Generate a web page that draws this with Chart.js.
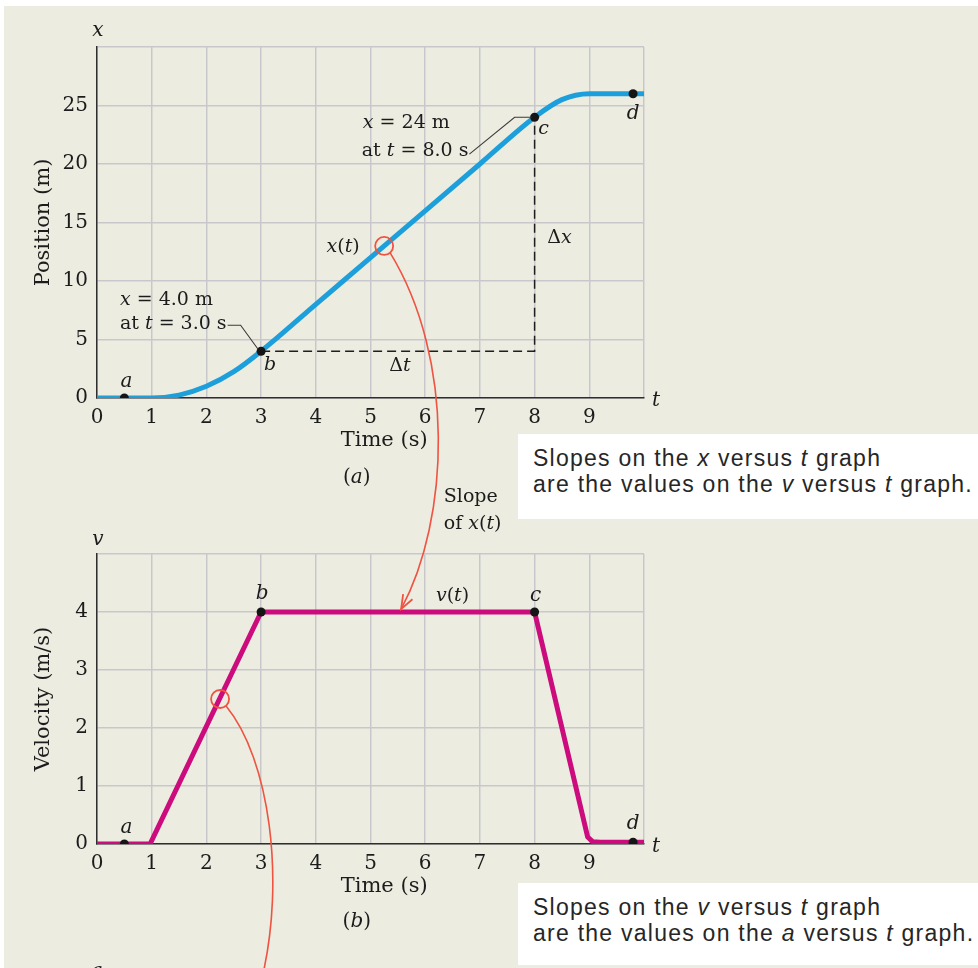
<!DOCTYPE html>
<html>
<head>
<meta charset="utf-8">
<script src="https://cdn.jsdelivr.net/npm/chart.js@4.4.1/dist/chart.umd.min.js"></script>
<style>
  html, body { margin: 0; padding: 0; background: #ffffff; }
  #page { position: relative; width: 978px; height: 968px; overflow: hidden; background: #ffffff; }
  #bg { position: absolute; left: 4px; top: 6px; right: 0; bottom: 0; background: #ecece1; }
  canvas { position: absolute; left: 0; top: 0; }
  .note {
    position: absolute; background: #ffffff; box-sizing: border-box;
    padding: 11px 0 0 15px;
    font-family: "Liberation Sans", Arial, sans-serif; font-size: 23px; line-height: 26px;
    letter-spacing: 1.25px; color: #262626; white-space: nowrap;
  }
  .note i { font-style: italic; }
</style>
</head>
<body>
<div id="page">
  <div id="bg"></div>
  <canvas id="posChart" width="978" height="968"></canvas>
  <canvas id="velChart" width="978" height="968"></canvas>
  <div class="note" style="left:518px;top:434px;width:460px;height:85px;">Slopes on the <i>x</i> versus <i>t</i> graph<br>are the values on the <i>v</i> versus <i>t</i> graph.</div>
  <div class="note" style="left:518px;top:883px;width:460px;height:82px;">Slopes on the <i>v</i> versus <i>t</i> graph<br>are the values on the <i>a</i> versus <i>t</i> graph.</div>
</div>
<script>
// Tick labels
const timeTicks = [0, 1, 2, 3, 4, 5, 6, 7, 8, 9];
const positionTicks = [0, 5, 10, 15, 20, 25];
const velocityTicks = [0, 1, 2, 3, 4];

// Position x(t) in metres
const posTime  = [0, 0.5, 1.0, 1.5, 2.0, 2.5, 3.0, 4.0, 5.0, 6.0, 7.0, 8.0, 8.5, 9.0, 9.8, 10.0];
const posValue = [0, 0, 0, 0.25, 1.0, 2.25, 4.0, 8, 12, 16, 20, 24, 25.5, 26, 26, 26];

// Velocity v(t) in m/s
const velTime  = [0, 0.5, 0.97, 3.0, 8.0, 8.97, 9.06, 9.2, 9.8, 10.0];
const velValue = [0, 0, 0, 4, 4, 0.12, 0.04, 0.03, 0.03, 0.03];

// Labelled instants a, b, c, d
const markNames = ['a', 'b', 'c', 'd'];
const markTime  = [0.5, 3.0, 8.0, 9.8];
const markPos   = [0, 4, 24, 26];
const markVel   = [0, 4, 4, 0.03];

const SERIF = '"DejaVu Serif", "Liberation Serif", serif';
const INK = '#1c1c1c';
const GRID = '#c7c7cc';
const AXIS = '#2e2e2e';
const BLUE = '#1d9fdb';
const MAGENTA = '#cc0b7d';
const RED = '#ef5341';

function pts(xs, ys) { return xs.map((x, i) => ({ x: x, y: ys[i] })); }

// Draw a line of text made of upright / italic runs
function runs(ctx, parts, x, y, align, size) {
  const fonts = parts.map(p => (p[1] ? 'italic ' : '') + size + 'px ' + SERIF);
  const widths = parts.map((p, i) => { ctx.font = fonts[i]; return ctx.measureText(p[0]).width; });
  const total = widths.reduce((a, b) => a + b, 0);
  let cx = align === 'center' ? x - total / 2 : (align === 'right' ? x - total : x);
  ctx.save();
  ctx.fillStyle = INK; ctx.textAlign = 'left'; ctx.textBaseline = 'middle';
  parts.forEach((p, i) => { ctx.font = fonts[i]; ctx.fillText(p[0], cx, y); cx += widths[i]; });
  ctx.restore();
  return cx;
}

function P(chart, t, v) { return [chart.scales.x.getPixelForValue(t), chart.scales.y.getPixelForValue(v)]; }

function polyline(ctx, list, color, width, dash) {
  ctx.save();
  ctx.strokeStyle = color; ctx.lineWidth = width; ctx.setLineDash(dash || []);
  ctx.beginPath();
  list.forEach((p, i) => i ? ctx.lineTo(p[0], p[1]) : ctx.moveTo(p[0], p[1]));
  ctx.stroke();
  ctx.restore();
}

function ring(ctx, c, r) {
  ctx.save();
  ctx.strokeStyle = RED; ctx.lineWidth = 1.8;
  ctx.beginPath(); ctx.arc(c[0], c[1], r, 0, Math.PI * 2); ctx.stroke();
  ctx.restore();
}

function curve(ctx, s, c1, c2, e, arrow) {
  ctx.save();
  ctx.strokeStyle = RED; ctx.lineWidth = 1.6;
  ctx.beginPath(); ctx.moveTo(s[0], s[1]);
  ctx.bezierCurveTo(c1[0], c1[1], c2[0], c2[1], e[0], e[1]);
  ctx.stroke();
  if (arrow) {
    const dx = e[0] - c2[0], dy = e[1] - c2[1], L = Math.hypot(dx, dy);
    const ux = dx / L, uy = dy / L, len = 15, ang = 0.36;
    const wing = (a) => [e[0] - len * (ux * Math.cos(a) - uy * Math.sin(a)),
                         e[1] - len * (ux * Math.sin(a) + uy * Math.cos(a))];
    const w1 = wing(ang), w2 = wing(-ang);
    ctx.lineWidth = 1.8;
    ctx.beginPath(); ctx.moveTo(w1[0], w1[1]); ctx.lineTo(e[0], e[1]); ctx.lineTo(w2[0], w2[1]); ctx.stroke();
  }
  ctx.restore();
}

function options(yMax, yStep, shown, title, padTop, padBottom) {
  return {
    responsive: false, animation: false, devicePixelRatio: 1,
    layout: { padding: { left: 0, top: padTop, right: 334, bottom: padBottom } },
    plugins: { legend: { display: false }, tooltip: { enabled: false } },
    scales: {
      x: {
        type: 'linear', min: 0, max: 10,
        afterFit: s => { s.height = 30; },
        ticks: { stepSize: 1, autoSkip: false, padding: 8, color: INK, font: { family: SERIF, size: 20 },
                 callback: v => timeTicks.includes(v) ? String(v) : '' },
        grid: { color: GRID, lineWidth: 1.5, drawTicks: false },
        border: { color: AXIS, width: 1.5 }
      },
      y: {
        type: 'linear', min: 0, max: yMax,
        afterFit: s => { s.width = 97; },
        ticks: { stepSize: yStep, autoSkip: false, padding: 9, color: INK, font: { family: SERIF, size: 20 },
                 callback: v => shown.includes(v) ? String(v) : '' },
        grid: { color: GRID, lineWidth: 1.5, drawTicks: false },
        border: { color: AXIS, width: 1.5 },
        title: { display: true, text: title, color: INK, font: { family: SERIF, size: 21 }, padding: { top: 31, bottom: 0 } }
      }
    }
  };
}

function markerSet(ys) {
  return { data: pts(markTime, ys), showLine: false, pointRadius: 4.5, pointHoverRadius: 4.5,
           pointBackgroundColor: '#151515', pointBorderWidth: 0 };
}

// ---- (a) position versus time ----
const posNotes = {
  id: 'posNotes',
  beforeDatasetsDraw(chart) {
    const ctx = chart.ctx;
    const b = P(chart, markTime[1], markPos[1]);
    const c = P(chart, markTime[2], markPos[2]);
    polyline(ctx, [b, [c[0], b[1]], c], '#1e1e1e', 1.5, [9, 5]);
  },
  afterDraw(chart) {
    const ctx = chart.ctx;
    const a = P(chart, markTime[0], markPos[0]);
    const b = P(chart, markTime[1], markPos[1]);
    const c = P(chart, markTime[2], markPos[2]);
    const d = P(chart, markTime[3], markPos[3]);
    runs(ctx, [[markNames[0], 1]], a[0] + 2, a[1] - 16, 'center', 20);
    runs(ctx, [[markNames[1], 1]], b[0] + 9, b[1] + 14, 'center', 19);
    runs(ctx, [[markNames[2], 1]], c[0] + 9, c[1] + 12, 'center', 19);
    runs(ctx, [[markNames[3], 1]], d[0], d[1] + 20, 'center', 20);

    // value callouts
    let p = P(chart, 0.42, 8.4);
    runs(ctx, [['x', 1], [' = 4.0 m', 0]], p[0], p[1], 'left', 19);
    p = P(chart, 0.42, 6.3);
    let end = runs(ctx, [['at ', 0], ['t', 1], [' = 3.0 s', 0]], p[0], p[1], 'left', 19);
    polyline(ctx, [[end + 1, p[1] + 1], [end + 14, p[1] + 1], [b[0] - 3, b[1] - 2]], '#3a3a3a', 1.1);

    p = P(chart, 4.86, 23.5);
    runs(ctx, [['x', 1], [' = 24 m', 0]], p[0], p[1], 'left', 19);
    p = P(chart, 4.84, 21.1);
    end = runs(ctx, [['at ', 0], ['t', 1], [' = 8.0 s', 0]], p[0], p[1], 'left', 19);
    polyline(ctx, [[end + 1, p[1] + 3], [c[0] - 20, c[1]], [c[0] - 3, c[1]]], '#3a3a3a', 1.1);

    p = P(chart, 4.5, 12.9);
    runs(ctx, [['x', 1], ['(', 0], ['t', 1], [')', 0]], p[0], p[1], 'center', 19);
    p = P(chart, 5.54, 2.7);
    runs(ctx, [['\u0394', 0], ['t', 1]], p[0], p[1], 'center', 19);
    p = P(chart, 8.23, 13.7);
    runs(ctx, [['\u0394', 0], ['x', 1]], p[0], p[1], 'left', 19);

    // axis symbols, axis title and caption
    p = P(chart, 10, 0);
    runs(ctx, [['t', 1]], p[0] + 12, p[1] + 3, 'center', 20);
    p = P(chart, 0, 30);
    runs(ctx, [['x', 1]], p[0] + 1, p[1] - 16, 'center', 20);
    p = P(chart, 5.25, 0);
    runs(ctx, [['Time (s)', 0]], p[0], p[1] + 43, 'center', 21);
    p = P(chart, 4.75, 0);
    runs(ctx, [['(', 0], ['a', 1], [')', 0]], p[0], p[1] + 80, 'center', 20);

    // slope marker on the curve
    ring(ctx, P(chart, 5.25, 13), 9);
  }
};

const posChart = new Chart(document.getElementById('posChart'), {
  type: 'line',
  data: {
    datasets: [
      markerSet(markPos),
      { data: pts(posTime, posValue), borderColor: BLUE, borderWidth: 5, pointRadius: 0,
        cubicInterpolationMode: 'monotone', fill: false, borderJoinStyle: 'round' }
    ]
  },
  options: options(30, 5, positionTicks, 'Position (m)', 47, 540),
  plugins: [posNotes]
});

// ---- (b) velocity versus time ----
const velNotes = {
  id: 'velNotes',
  afterDraw(chart) {
    const ctx = chart.ctx;
    const a = P(chart, markTime[0], markVel[0]);
    const b = P(chart, markTime[1], markVel[1]);
    const c = P(chart, markTime[2], markVel[2]);
    const d = P(chart, markTime[3], markVel[3]);
    runs(ctx, [[markNames[0], 1]], a[0] + 2, a[1] - 16, 'center', 20);
    runs(ctx, [[markNames[1], 1]], b[0] + 1, b[1] - 18, 'center', 20);
    runs(ctx, [[markNames[2], 1]], c[0] + 1, c[1] - 16, 'center', 20);
    runs(ctx, [[markNames[3], 1]], d[0], d[1] - 18, 'center', 20);

    let p = P(chart, 6.5, 4.27);
    runs(ctx, [['v', 1], ['(', 0], ['t', 1], [')', 0]], p[0], p[1], 'center', 19);

    p = P(chart, 10, 0);
    runs(ctx, [['t', 1]], p[0] + 12, p[1] + 3, 'center', 20);
    p = P(chart, 0, 5);
    runs(ctx, [['v', 1]], p[0] + 1, p[1] - 14, 'center', 20);
    p = P(chart, 5.25, 0);
    runs(ctx, [['Time (s)', 0]], p[0], p[1] + 43, 'center', 21);
    p = P(chart, 4.75, 0);
    runs(ctx, [['(', 0], ['b', 1], [')', 0]], p[0], p[1] + 78, 'center', 20);

    p = P(chart, 6.34, 5.99);
    runs(ctx, [['Slope', 0]], p[0], p[1], 'left', 19);
    p = P(chart, 6.34, 5.52);
    runs(ctx, [['of ', 0], ['x', 1], ['(', 0], ['t', 1], [')', 0]], p[0], p[1], 'left', 19);

    // slope of x(t) carried down onto v(t)
    const ca = P(posChart, 5.25, 13);
    curve(ctx, [ca[0] + 6, ca[1] + 7], P(posChart, 6.55, 3.3), P(chart, 6.45, 5.61), P(chart, 5.56, 4.05), true);

    // slope marker on v(t), leading on to the next graph
    const cb = P(chart, 2.25, 2.5);
    ring(ctx, cb, 9);
    curve(ctx, [cb[0] + 6, cb[1] + 7], P(chart, 3.16, 1.46), P(chart, 3.44, -0.62), P(chart, 3.02, -2.3), false);

    // axis symbol of the acceleration graph below
    p = P(chart, 0, -2.2);
    runs(ctx, [['a', 1]], p[0], p[1], 'center', 20);
  }
};

const velChart = new Chart(document.getElementById('velChart'), {
  type: 'line',
  data: {
    datasets: [
      markerSet(markVel),
      { data: pts(velTime, velValue), borderColor: MAGENTA, borderWidth: 5, pointRadius: 0,
        tension: 0, fill: false, borderJoinStyle: 'round' }
    ]
  },
  options: options(5, 1, velocityTicks, 'Velocity (m/s)', 554, 94),
  plugins: [velNotes]
});
</script>
</body>
</html>
